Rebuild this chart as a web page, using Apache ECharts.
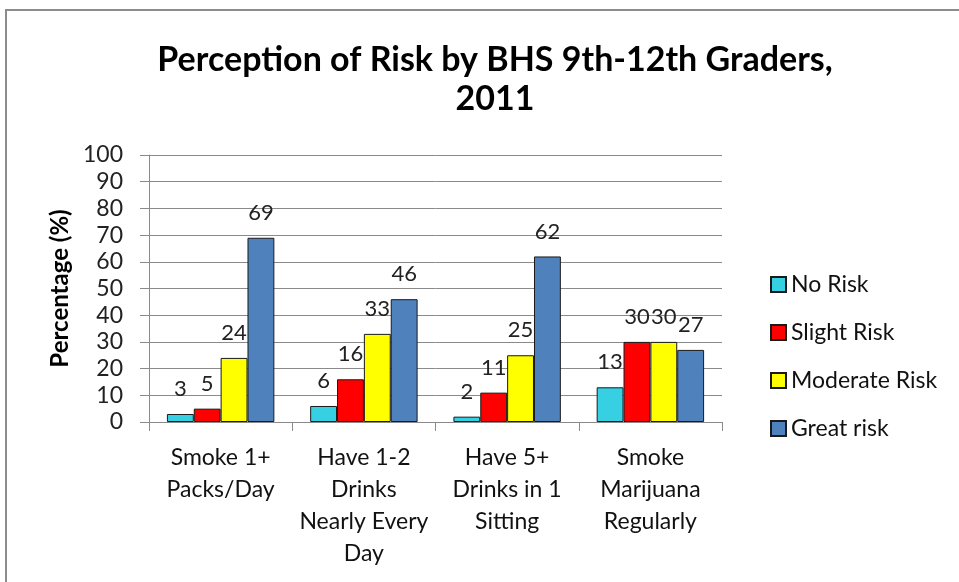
<!DOCTYPE html>
<html>
<head>
<meta charset="utf-8">
<script src="https://cdn.jsdelivr.net/npm/echarts@6/dist/echarts.min.js"></script>
<style>
  html, body { margin: 0; padding: 0; background: #fff; }
  #chart { width: 959px; height: 582px; }
</style>
</head>
<body>
<div id="chart"></div>
<script>
// Survey categories (multi-line labels as shown under the axis)
const categories = [
  'Smoke 1+\nPacks/Day',
  'Have 1-2\nDrinks\nNearly Every\nDay',
  'Have 5+\nDrinks in 1\nSitting',
  'Smoke\nMarijuana\nRegularly'
];

// Percentage of students choosing each risk level
const noRisk = [3, 6, 2, 13];
const slightRisk = [5, 16, 11, 30];
const moderateRisk = [24, 33, 25, 30];
const greatRisk = [69, 46, 62, 27];

const seriesNames = ['No Risk', 'Slight Risk', 'Moderate Risk', 'Great risk'];
const seriesColors = ['#36D0E2', '#FF0000', '#FFFF00', '#4F81BD'];
const seriesData = [noRisk, slightRisk, moderateRisk, greatRisk];

const yTicks = { min: 0, max: 100, interval: 10 };

const FONT = 'Lato, "Open Sans", sans-serif';

const chart = echarts.init(document.getElementById('chart'), null, { renderer: 'canvas' });

chart.setOption({
  backgroundColor: '#ffffff',
  animation: false,
  textStyle: { fontFamily: FONT },
  title: {
    text: 'Perception of Risk by BHS 9th-12th Graders,\n2011',
    left: 490,
    top: 36,
    textAlign: 'center',
    textStyle: {
      fontFamily: FONT,
      fontSize: 34,
      fontWeight: 'bold',
      color: '#000',
      lineHeight: 39
    }
  },
  legend: {
    orient: 'vertical',
    left: 765,
    top: 268,
    itemWidth: 15,
    itemHeight: 15,
    itemGap: 25,
    icon: 'rect',
    data: seriesNames,
    textStyle: { fontFamily: FONT, fontSize: 23, color: '#111' }
  },
  grid: { left: 149, right: 237, top: 155, bottom: 160, containLabel: false },
  xAxis: {
    type: 'category',
    data: categories,
    axisLine: { show: true, lineStyle: { color: '#8a8a8a', width: 1 } },
    axisTick: { show: true, length: 9, lineStyle: { color: '#8a8a8a' } },
    axisLabel: {
      interval: 0,
      margin: 20,
      fontFamily: FONT,
      fontSize: 23,
      lineHeight: 32,
      color: '#111'
    }
  },
  yAxis: {
    type: 'value',
    min: yTicks.min,
    max: yTicks.max,
    interval: yTicks.interval,
    name: 'Percentage (%)',
    nameLocation: 'middle',
    nameGap: 76,
    nameTextStyle: { fontFamily: FONT, fontSize: 24, fontWeight: 'bold', color: '#000' },
    axisLine: { show: true, lineStyle: { color: '#8a8a8a', width: 1 } },
    axisTick: { show: true, length: 9, lineStyle: { color: '#8a8a8a' } },
    axisLabel: { margin: 26, fontFamily: FONT, fontSize: 23, color: '#222' },
    splitLine: { show: true, lineStyle: { color: '#8a8a8a', width: 1 } }
  },
  series: seriesNames.map((name, i) => ({
    name: name,
    type: 'bar',
    data: seriesData[i],
    barGap: '0%',
    barCategoryGap: '25%',
    itemStyle: { color: seriesColors[i], borderColor: '#1a1a1a', borderWidth: 1 },
    label: {
      show: true,
      position: 'top',
      distance: 14,
      fontFamily: FONT,
      fontSize: 22,
      color: '#222'
    }
  })),
  graphic: [{
    type: 'rect',
    shape: { x: 6, y: 10, width: 1200, height: 1000 },
    style: { fill: 'none', stroke: '#8c8c8c', lineWidth: 2 },
    silent: true
  }]
});
</script>
</body>
</html>
